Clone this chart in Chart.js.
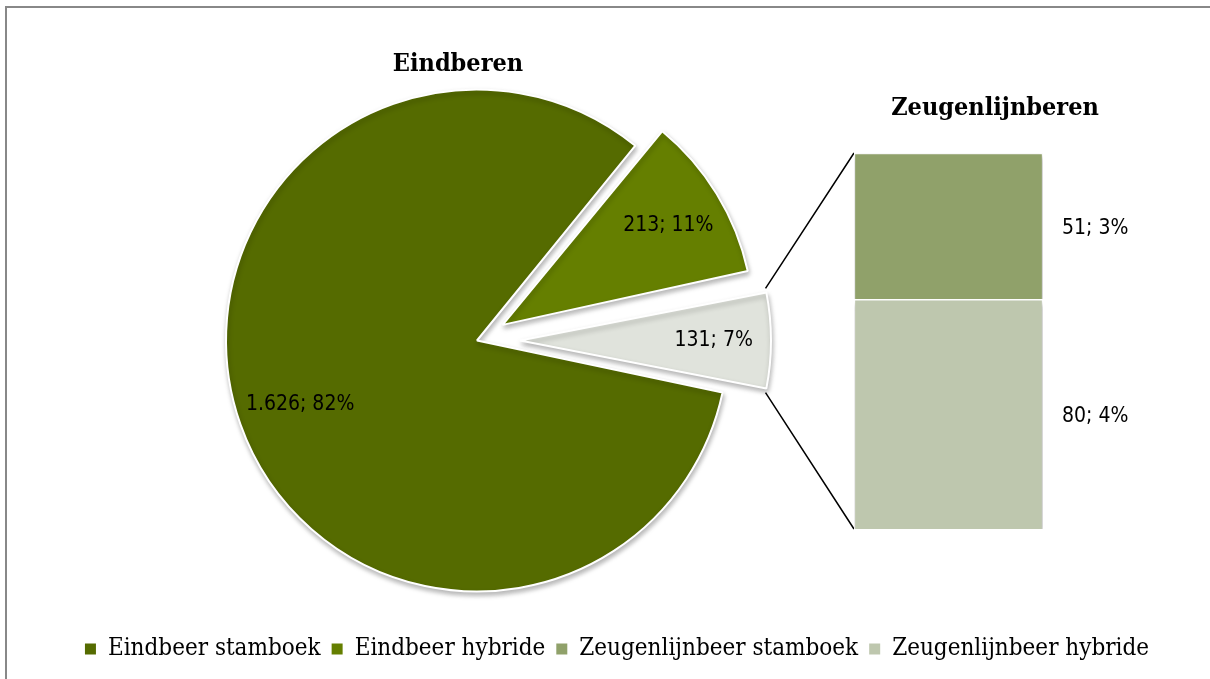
<!DOCTYPE html>
<html>
<head>
<meta charset="utf-8">
<script src="https://cdn.jsdelivr.net/npm/chart.js@4.4.1/dist/chart.umd.min.js"></script>
<style>
  body { margin: 0; background: #fff; }
  #wrap { position: relative; width: 1210px; height: 679px; overflow: hidden; }
  #frame { position: absolute; left: 5px; top: 6px; width: 1230px; height: 700px; border: 2px solid #888; }
  canvas { position: absolute; left: 0; top: 0; }
</style>
</head>
<body>
<div id="wrap">
  <div id="frame"></div>
  <canvas id="pie" width="1210" height="679"></canvas>
  <canvas id="bar" width="1210" height="679"></canvas>
  <canvas id="legend" width="1210" height="679"></canvas>
</div>
<script>
// data
const titles = ["Eindberen", "Zeugenlijnberen"];
const pieLabels = ["Eindbeer stamboek", "Eindbeer hybride", "Zeugenlijnberen"];
const pieValues = [1626, 213, 131];
const piePercents = [82, 11, 7];
const barLabels = ["Zeugenlijnbeer stamboek", "Zeugenlijnbeer hybride"];
const barValues = [51, 80];
const barPercents = [3, 4];

// kleuren
const pieColors = ["#556b00", "#657f00", "#e0e3dc"];
const barColors = ["#90a16a", "#bec7ae"];

const labelFont = "'Liberation Sans Narrow', 'DejaVu Sans Condensed', sans-serif";
const serifFont = "'DejaVu Serif Condensed', 'DejaVu Serif', serif";

// 1626 -> 1.626
function fmt(n) {
  return n.toString().replace(/\B(?=(\d{3})+(?!\d))/g, ".");
}

const pieTotal = pieValues.reduce((a, b) => a + b, 0);
// het "overig" stuk komt gecentreerd op 3 uur, zoals in Excel
const rotation = 90 - ((pieValues[0] + pieValues[1] + pieValues[2] / 2) / pieTotal) * 360;

// Chart.js schuift een stuk maar offset/4 naar buiten
function arcShift(arc) {
  return (arc.options.offset || 0) / 4;
}

const shadowPlugin = {
  id: "shadow",
  beforeDatasetDraw(chart) {
    const c = chart.ctx;
    c.save();
    c.shadowColor = "rgba(0,0,0,0.28)";
    c.shadowBlur = 5;
    c.shadowOffsetX = 1;
    c.shadowOffsetY = 3;
  },
  afterDatasetDraw(chart) {
    chart.ctx.restore();
  },
};

// Chart.js maakt verschoven smalle stukken ook groter; dat draaien we terug
// zodat alle stukken dezelfde straal houden (zoals in Excel)
const keepRadiusPlugin = {
  id: "keepRadius",
  beforeDatasetDraw(chart) {
    chart.getDatasetMeta(0).data.forEach((arc) => {
      const fix = 1 - Math.sin(Math.min(Math.PI, arc.circumference || 0));
      arc._extra = arcShift(arc) * fix;
      arc.outerRadius -= arc._extra;
    });
  },
  afterDatasetDraw(chart) {
    chart.getDatasetMeta(0).data.forEach((arc) => {
      arc.outerRadius += arc._extra;
    });
  },
};

const pieLabelPlugin = {
  id: "pieLabels",
  afterDatasetsDraw(chart) {
    const ctx = chart.ctx;
    ctx.save();
    ctx.font = "21px " + labelFont;
    ctx.fillStyle = "#000";
    ctx.textAlign = "center";
    ctx.textBaseline = "middle";
    chart.getDatasetMeta(0).data.forEach((arc, i) => {
      const p = arc.getProps(["x", "y", "startAngle", "endAngle", "outerRadius"], true);
      const mid = (p.startAngle + p.endAngle) / 2;
      const d = arcShift(arc) + p.outerRadius * 0.76;
      ctx.fillText(fmt(pieValues[i]) + "; " + piePercents[i] + "%",
        p.x + Math.cos(mid) * d + 3, p.y + Math.sin(mid) * d);
    });
    ctx.restore();
  },
};

const pieChart = new Chart(document.getElementById("pie"), {
  type: "pie",
  data: {
    labels: pieLabels,
    datasets: [{
      data: pieValues,
      backgroundColor: pieColors,
      borderColor: "#fff",
      borderWidth: 2,
      offset: [0, 120, 172],
      radius: 251,
      clip: false,
    }],
  },
  options: {
    responsive: false,
    animation: false,
    rotation: rotation,
    layout: { padding: { left: 0, right: 256, top: 2, bottom: 0 } },
    plugins: { legend: { display: false }, tooltip: { enabled: false } },
  },
  plugins: [keepRadiusPlugin, shadowPlugin, pieLabelPlugin],
});

// lijnen van het kleine stuk naar de staaf
const connectorPlugin = {
  id: "connector",
  beforeDatasetsDraw(chart) {
    const arc = pieChart.getDatasetMeta(0).data[2];
    const p = arc.getProps(["x", "y", "startAngle", "endAngle", "outerRadius"], true);
    const mid = (p.startAngle + p.endAngle) / 2;
    const off = arcShift(arc);
    const cx = p.x + Math.cos(mid) * off;
    const cy = p.y + Math.sin(mid) * off;
    const r = p.outerRadius;

    const bottomBar = chart.getDatasetMeta(0).data[0];
    const topBar = chart.getDatasetMeta(1).data[0];
    const left = topBar.x - topBar.width / 2;

    const ctx = chart.ctx;
    ctx.save();
    ctx.strokeStyle = "#000";
    ctx.lineWidth = 1.5;
    ctx.beginPath();
    ctx.moveTo(cx + Math.cos(p.startAngle) * r, cy + Math.sin(p.startAngle) * r);
    ctx.lineTo(left, topBar.y);
    ctx.moveTo(cx + Math.cos(p.endAngle) * r, cy + Math.sin(p.endAngle) * r);
    ctx.lineTo(left, bottomBar.base);
    ctx.stroke();
    ctx.restore();
  },
};

const barLabelPlugin = {
  id: "barLabels",
  afterDatasetsDraw(chart) {
    const ctx = chart.ctx;
    ctx.save();
    ctx.font = "21px " + labelFont;
    ctx.fillStyle = "#000";
    ctx.textAlign = "left";
    ctx.textBaseline = "middle";
    chart.data.datasets.forEach((ds, di) => {
      const el = chart.getDatasetMeta(di).data[0];
      const i = ds.srcIndex;
      ctx.fillText(barValues[i] + "; " + barPercents[i] + "%",
        el.x + el.width / 2 + 19, (el.y + el.base) / 2 + 2);
    });
    ctx.restore();
  },
};

// hybride onderaan, stamboek erboven
const barOrder = [1, 0];
new Chart(document.getElementById("bar"), {
  type: "bar",
  data: {
    labels: [titles[1]],
    datasets: barOrder.map((i) => ({
      label: barLabels[i],
      data: [barValues[i]],
      backgroundColor: barColors[i],
      borderColor: "#fff",
      borderWidth: 1.5,
      srcIndex: i,
    })),
  },
  options: {
    responsive: false,
    animation: false,
    layout: { padding: { left: 854, right: 167, top: 153, bottom: 150 } },
    datasets: { bar: { barPercentage: 1, categoryPercentage: 1 } },
    scales: {
      x: { display: false, stacked: true },
      y: { display: false, stacked: true, min: 0, max: barValues.reduce((a, b) => a + b, 0) },
    },
    plugins: { legend: { display: false }, tooltip: { enabled: false } },
  },
  plugins: [connectorPlugin, shadowPlugin, barLabelPlugin],
});

// titels
const titlePlugin = {
  id: "titles",
  afterDraw(chart) {
    const ctx = chart.ctx;
    ctx.save();
    ctx.font = "bold 25px " + serifFont;
    ctx.fillStyle = "#000";
    ctx.textAlign = "center";
    ctx.textBaseline = "alphabetic";
    ctx.fillText(titles[0], 458, 71);
    ctx.fillText(titles[1], 995, 115);
    ctx.restore();
  },
};

// legenda: twee eindbeer-stukken plus de twee zeugenlijn-stukken
const legendNames = pieLabels.slice(0, 2).concat(barLabels);
const legendColors = pieColors.slice(0, 2).concat(barColors);

new Chart(document.getElementById("legend"), {
  type: "bar",
  data: {
    labels: [],
    datasets: legendNames.map((n, i) => ({ label: n, data: [], backgroundColor: legendColors[i] })),
  },
  options: {
    responsive: false,
    animation: false,
    layout: { padding: { left: 24, bottom: 8 } },
    scales: { x: { display: false }, y: { display: false } },
    plugins: {
      tooltip: { enabled: false },
      legend: {
        position: "bottom",
        onClick: null,
        labels: {
          font: { family: serifFont, size: 24 },
          color: "#000",
          boxWidth: 11,
          boxHeight: 11,
          padding: 11,
        },
      },
    },
  },
  plugins: [titlePlugin],
});
</script>
</body>
</html>
